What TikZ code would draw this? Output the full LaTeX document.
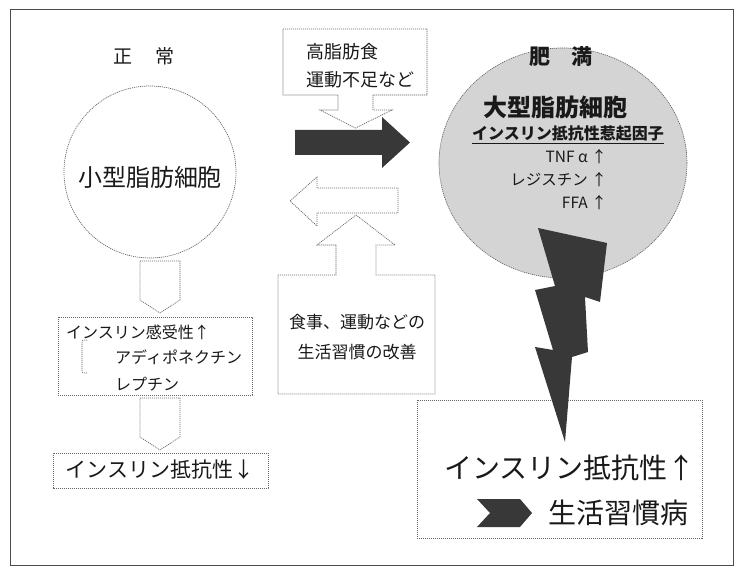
\documentclass[tikz,border=0pt]{standalone}
\usepackage{fontspec}
\setmainfont{Noto Sans CJK JP}
\usetikzlibrary{shapes.geometric}
\tikzset{
  dotline/.style={draw=black!60, line width=0.7pt, dash pattern=on 1.1pt off 0.9pt},
  frameline/.style={draw=black!70, line width=0.9pt},
  darkfill/.style={fill=black!78, draw=none},
  txt/.style={inner sep=0pt, text=black!90},
}
\newcommand{\fs}[1]{\fontsize{#1}{#1}\selectfont}
\begin{document}
\begin{tikzpicture}[x=1pt,y=-1pt]
\useasboundingbox (0,0) rectangle (740,575);
% frame
\draw[frameline] (10,9) rectangle (733,565);

% ---- left column ----
\node[txt, font=\fs{19}] (normal) at (144,56) {正\hspace{23pt}常};
\node[circle, dotline, minimum size=172pt, inner sep=0pt] (smallcell) at (150,172) {};
\node[txt, font=\fs{24}] (smalltxt) at (150,177) {小型脂肪細胞};

\draw[dotline] (140,261) -- (180,261) -- (180,300) -- (160,313) -- (140,300) -- cycle;
\draw[dotline] (58,317) rectangle (252,395);
\node[txt, font=\fs{16}, anchor=west] (sens) at (66,332) {インスリン感受性↑};
\draw[dotline, line width=0.6pt] (87,340) .. controls (82,340) .. (82,344) -- (82,369) .. controls (82,373) .. (87,373);
\node[txt, font=\fs{16}, anchor=west] (adipo) at (115,357) {アディポネクチン};
\node[txt, font=\fs{16}, anchor=west] (lep) at (115,384) {レプチン};

\draw[dotline] (140,398) -- (180,398) -- (180,437) -- (160,450) -- (140,437) -- cycle;
\draw[dotline] (53,453) rectangle (268,488);
\node[txt, font=\fs{21}] (resdown) at (160,470) {インスリン抵抗性↓};

% ---- middle column ----
\draw[dotline] (283,29) -- (427,29) -- (427,95) -- (373,95) -- (373,110) -- (392,110)
  -- (355.5,128) -- (320,110) -- (338,110) -- (338,95) -- (283,95) -- cycle;
\node[txt, font=\fs{18}, anchor=west] (fat) at (306,52) {高脂肪食};
\node[txt, font=\fs{18}, anchor=west] (lack) at (306,80) {運動不足など};

\fill[darkfill] (295,130) -- (382,130) -- (382,117) -- (410,142.5) -- (382,168) -- (382,155) -- (295,155) -- cycle;

\draw[dotline, fill=white] (290,201) -- (317,177) -- (317,188) -- (398,188) -- (398,213) -- (317,213) -- (317,226) -- cycle;

\draw[dotline] (278,275) -- (336,275) -- (336,245) -- (317,245) -- (356,215) -- (395,245)
  -- (376,245) -- (376,275) -- (435,275) -- (435,394) -- (278,394) -- cycle;
\node[txt, font=\fs{17}] (meal) at (357,322) {食事、運動などの};
\node[txt, font=\fs{17}] (life) at (357,352) {生活習慣の改善};

% ---- right column ----
\node[ellipse, dotline, fill=black!17, minimum width=248pt, minimum height=230pt, inner sep=0pt] (bigcell) at (563,163) {};
\node[txt, font=\fs{21}\bfseries] (obese) at (561,57) {肥\hspace{21pt}満};
\node[txt, font=\fs{24}\bfseries] (bigtxt) at (555,107) {大型脂肪細胞};
\node[txt, font=\fs{16}\bfseries] (factor) at (568,135) {\underline{インスリン抵抗性惹起因子}};
\node[txt, font=\fs{15.5}, anchor=east] (tnf) at (607,157) {TNF α ↑};
\node[txt, font=\fs{15.5}, anchor=east] (resist) at (607,180) {レジスチン ↑};
\node[txt, font=\fs{15.5}, anchor=east] (ffa) at (607,203) {FFA ↑};

\draw[dotline] (417,400) rectangle (702,538);

\fill[darkfill] (538,228) -- (607,243) -- (600,302) -- (585,297) -- (588,352) -- (572,357)
  -- (565,442) -- (535,347) -- (553,350) -- (535,290) -- (555,286) -- cycle;

\node[txt, font=\fs{28}] (resup) at (570,468) {インスリン抵抗性↑};
\fill[darkfill] (477,499) -- (520,499) -- (532,513) -- (520,527) -- (477,527) -- (490,513) -- cycle;
\node[txt, font=\fs{28}] (disease) at (618,513) {生活習慣病};
\end{tikzpicture}
\end{document}
